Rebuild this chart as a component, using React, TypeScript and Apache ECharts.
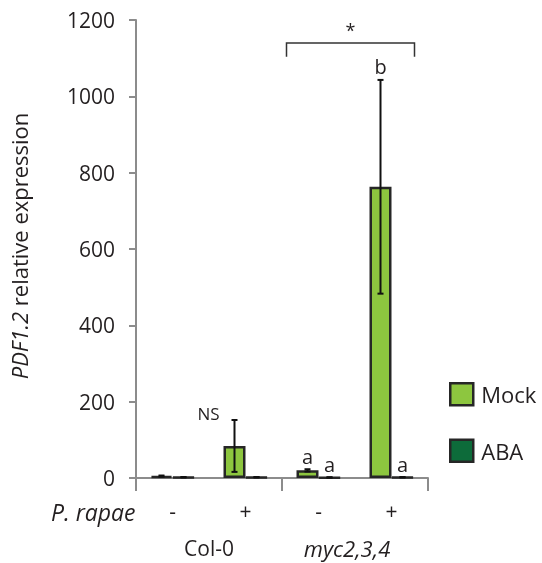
import React, { useEffect, useRef } from "react";
import * as echarts from "echarts";

const categories = ["-", "+", "-", "+"];
const groups = ["Col-0", "myc2,3,4"];
const seriesNames = ["Mock", "ABA"];
const mockValues = [5, 84, 20, 763];
const mockErrors = [1.5, 68, 3, 280];
const abaValues = [2, 2, 1.5, 2];
const abaErrors = [0.5, 0.5, 0.5, 0.5];
const mockLabels = ["", "NS", "a", "b"];
const abaLabels = ["", "", "a", "a"];
const yMin = 0;
const yMax = 1200;
const yInterval = 200;
const sigPair = [2, 3];
const sigLabel = "*";
const xAxisTitle = "P. rapae";

const FONT = "'Open Sans', sans-serif";
const TXT = "#231f20";
const AXIS = "#8c8c8c";
const MOCK = "#8dc63f";
const ABA = "#0d6b3a";
const BORDER = "#262626";
const BAR_W = 22;

export default function App() {
  const ref = useRef<HTMLDivElement>(null);
  useEffect(() => {
    const chart = echarts.init(ref.current!, null, { renderer: "svg" });

    const errSeries = (vals: number[], errs: number[], labels: string[], off: number, name: string) => ({
      type: "custom",
      name: name + "_err",
      xAxisIndex: 0,
      yAxisIndex: 0,
      z: 5,
      silent: true,
      data: vals.map((v, i) => [i, v, errs[i]]),
      renderItem: (params: any, api: any) => {
        const i = api.value(0);
        const m = api.value(1);
        const e = api.value(2);
        const top = api.coord([i, m + e]);
        const bot = api.coord([i, Math.max(m - e, 0)]);
        const x = top[0] + off;
        const label = labels[params.dataIndex];
        const children: any[] = [
          { type: "line", shape: { x1: x, y1: top[1], x2: x, y2: bot[1] }, style: { stroke: "#111", lineWidth: 2 } },
          { type: "line", shape: { x1: x - 3, y1: top[1], x2: x + 3, y2: top[1] }, style: { stroke: "#111", lineWidth: 2 } },
          { type: "line", shape: { x1: x - 3, y1: bot[1], x2: x + 3, y2: bot[1] }, style: { stroke: "#111", lineWidth: 2 } },
        ];
        if (label) {
          const left = label === "NS";
          children.push({
            type: "text",
            x: left ? x - 15 : x,
            y: left ? top[1] + 2 : top[1] - 3,
            style: {
              text: label,
              fontFamily: FONT,
              fontSize: left ? 17 : 20,
              fill: TXT,
              align: left ? "right" : "center",
              verticalAlign: "bottom",
            },
          });
        }
        return { type: "group", children };
      },
    });

    chart.setOption({
      animation: false,
      textStyle: { fontFamily: FONT },
      grid: { left: 134, right: 114, top: 20, bottom: 85 },
      legend: {
        orient: "vertical",
        left: 449,
        top: 382,
        padding: 0,
        itemWidth: 23,
        itemHeight: 22,
        itemGap: 32,
        data: seriesNames,
        icon: "rect",
        itemStyle: { borderWidth: 2.5 },
        textStyle: { fontSize: 22, color: TXT, fontFamily: FONT, padding: [0, 0, 0, 3] },
      },
      xAxis: [
        {
          type: "category",
          data: categories,
          position: "bottom",
          axisLine: { lineStyle: { color: AXIS, width: 2 } },
          axisTick: { length: 7, lineStyle: { color: AXIS, width: 2 } },
          axisLabel: { margin: 22, fontSize: 21, color: TXT, fontFamily: FONT },
        },
        {
          type: "category",
          data: groups,
          position: "bottom",
          axisLine: { show: false },
          axisTick: { show: true, length: 13, lineStyle: { color: AXIS, width: 2 } },
          axisLabel: {
            interval: 0,
            hideOverlap: false,
            margin: 59,
            fontSize: 21,
            color: TXT,
            fontFamily: FONT,
            formatter: (v: string) => (v.startsWith("myc") ? `{i|${v}}` : `{n|${v}}`),
            rich: {
              i: { fontStyle: "italic", fontSize: 22, color: TXT, fontFamily: FONT, padding: [0, 16, 0, 0] },
              n: { fontSize: 21, color: TXT, fontFamily: FONT },
            },
          },
        },
      ],
      yAxis: {
        type: "value",
        min: yMin,
        max: yMax,
        interval: yInterval,
        splitLine: { show: false },
        axisLine: { show: true, lineStyle: { color: AXIS, width: 2 } },
        axisTick: { show: true, length: 7, lineStyle: { color: AXIS, width: 2 } },
        axisLabel: { margin: 21, fontSize: 21, color: TXT, fontFamily: FONT, formatter: (v: number) => String(v) },
        name: "{i|PDF1.2} relative expression",
        nameLocation: "middle",
        nameRotate: 90,
        nameGap: 106,
        nameTextStyle: {
          fontSize: 22,
          color: TXT,
          fontFamily: FONT,
          padding: [0, 0, 0, 6],
          rich: { i: { fontStyle: "italic", fontSize: 22, color: TXT, fontFamily: FONT } },
        },
      },
      series: [
        {
          type: "bar",
          name: seriesNames[0],
          data: mockValues,
          barWidth: BAR_W,
          barGap: "0%",
          itemStyle: { color: MOCK, borderColor: BORDER, borderWidth: 2.5 },
        },
        {
          type: "bar",
          name: seriesNames[1],
          data: abaValues,
          barWidth: BAR_W,
          barGap: "0%",
          itemStyle: { color: ABA, borderColor: BORDER, borderWidth: 2.5 },
        },
        errSeries(mockValues, mockErrors, mockLabels, -BAR_W / 2, seriesNames[0]),
        errSeries(abaValues, abaErrors, abaLabels, BAR_W / 2, seriesNames[1]),
      ],
    });

    const pL = chart.convertToPixel({ gridIndex: 0 }, [sigPair[0], 1140]) as number[];
    const pR = chart.convertToPixel({ gridIndex: 0 }, [sigPair[1], 1140]) as number[];
    const pE = chart.convertToPixel({ gridIndex: 0 }, [sigPair[1], 1104]) as number[];
    const x0 = chart.convertToPixel({ gridIndex: 0 }, [0, 0]) as number[];
    const xL = pL[0] - BAR_W - 10;
    const xR = pR[0] + BAR_W + 1;
    chart.setOption({
      graphic: [
        {
          type: "polyline",
          shape: { points: [[xL, pE[1]], [xL, pL[1]], [xR, pL[1]], [xR, pE[1]]] },
          style: { stroke: "#333", lineWidth: 1.5, fill: "none" },
        },
        {
          type: "text",
          x: (xL + xR) / 2,
          y: pL[1] - 4,
          style: { text: sigLabel, fontFamily: FONT, fontSize: 18, fill: TXT, align: "center", verticalAlign: "bottom" },
        },
        {
          type: "text",
          x: x0[0] - 37,
          y: x0[1] + 34,
          style: {
            text: xAxisTitle,
            fontFamily: FONT,
            fontStyle: "italic",
            fontSize: 23,
            fill: TXT,
            align: "right",
            verticalAlign: "middle",
          },
        },
      ],
    });

    return () => chart.dispose();
  }, []);
  return <div ref={ref} style={{ position: "fixed", left: 0, top: 0, width: 542, height: 563 }} />;
}
